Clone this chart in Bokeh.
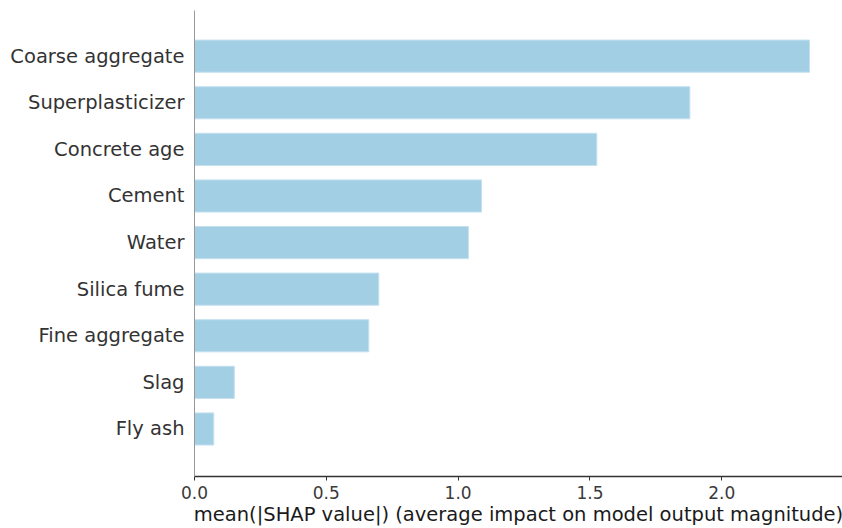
from bokeh.plotting import figure
from bokeh.models import Range1d, FixedTicker, ColumnDataSource
from bokeh.embed import file_html
from bokeh.resources import INLINE

# Mean absolute SHAP value per input feature (top to bottom)
features = ["Coarse aggregate", "Superplasticizer", "Concrete age", "Cement",
            "Water", "Silica fume", "Fine aggregate", "Slag", "Fly ash"]
mean_abs_shap = [2.333, 1.879, 1.526, 1.089, 1.039, 0.699, 0.661, 0.151, 0.073]
x_ticks = [0.0, 0.5, 1.0, 1.5, 2.0]
x_title = "mean(|SHAP value|) (average impact on model output magnitude)"

n = len(features)
rows = [n - 1 - i for i in range(n)]  # first feature drawn at the top

src = ColumnDataSource(dict(y=rows, v=mean_abs_shap, name=features))

FONT = "DejaVu Sans"

p = figure(width=842, height=528, output_backend="svg", toolbar_location=None,
           x_range=Range1d(0, 2.458), y_range=Range1d(-1.02, n - 0.02),
           min_border_left=194, min_border_right=0, min_border_top=10,
           min_border_bottom=52)
p.outline_line_color = None
p.grid.visible = False
p.background_fill_color = "white"
p.border_fill_color = "white"

p.hbar(y="y", right="v", left=0, height=0.69, source=src,
       fill_color="#a3cfe4", line_color="#c4e0ef", line_width=1)

# x axis
xa = p.xaxis[0]
xa.ticker = FixedTicker(ticks=x_ticks)
xa.major_label_overrides = {t: f"{t:.1f}" for t in x_ticks}
xa.axis_line_color = "#333333"
xa.axis_line_width = 1.5
xa.major_tick_line_color = "#333333"
xa.major_tick_in = 0
xa.major_tick_out = 4
xa.minor_tick_line_color = None
xa.major_label_text_font = FONT
xa.major_label_text_font_size = "17px"
xa.major_label_text_color = "#3a3a3a"
xa.major_label_standoff = 5
xa.axis_label = x_title
xa.axis_label_text_font = FONT
xa.axis_label_text_font_size = "19.5px"
xa.axis_label_text_font_style = "normal"
xa.axis_label_text_color = "#1a1a1a"
xa.axis_label_standoff = 1

# y axis with feature names
ya = p.yaxis[0]
ya.ticker = FixedTicker(ticks=rows)
ya.major_label_overrides = {r: f for r, f in zip(rows, features)}
ya.axis_line_color = "#999999"
ya.axis_line_width = 1
ya.major_tick_line_color = None
ya.major_tick_in = 0
ya.major_tick_out = 0
ya.minor_tick_line_color = None
ya.major_label_text_font = FONT
ya.major_label_text_font_size = "19.5px"
ya.major_label_text_color = "#333333"
ya.major_label_standoff = 10

open("out.html", "w").write(file_html(p, INLINE))
